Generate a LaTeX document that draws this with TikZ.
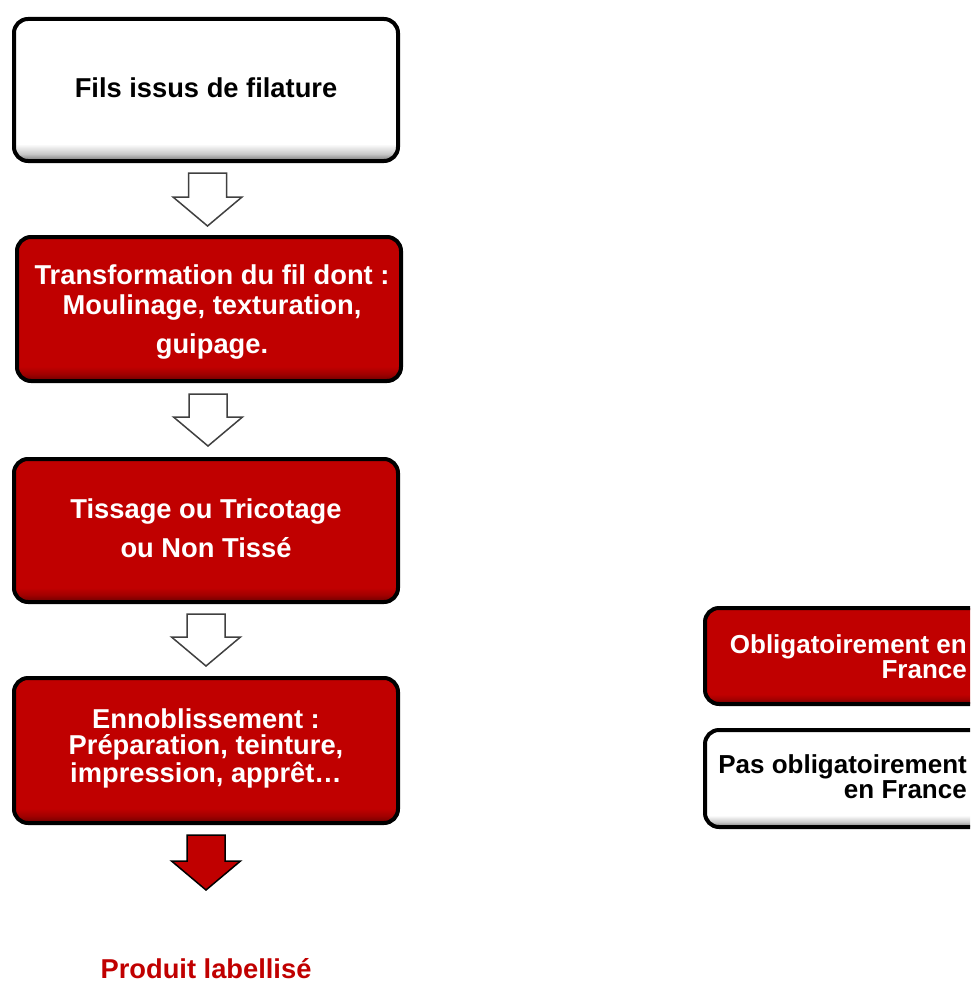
\documentclass[tikz,border=0pt]{standalone}
\usepackage{fontspec}
\setmainfont{Liberation Sans}
\usetikzlibrary{calc}
\definecolor{boxred}{HTML}{C00000}
\definecolor{boxdark}{HTML}{6A0000}
\definecolor{arrowline}{HTML}{404040}
\pgfdeclareverticalshading{redshade}{100bp}{color(0bp)=(boxdark); color(25bp)=(boxdark); color(27.5bp)=(boxred!65!boxdark); color(30bp)=(boxred); color(100bp)=(boxred)}
\pgfdeclareverticalshading{whiteshade}{100bp}{color(0bp)=(black!55); color(25bp)=(black!55); color(27.5bp)=(black!22); color(31bp)=(white); color(100bp)=(white)}
\newcommand\flowarrow[3]{%
  \draw[#1] let \p1=(#2), \p2=(#3) in
    (\x1-19pt,\y1) -- (\x1+19pt,\y1) -- (\x1+19pt,\y2+29pt) -- (\x1+34.5pt,\y2+29pt)
    -- (\x1,\y2) -- (\x1-34.5pt,\y2+29pt) -- (\x1-19pt,\y2+29pt) -- cycle;}
\begin{document}
\begin{tikzpicture}[x=1pt,y=-1pt,
  flowbox/.style={draw=black, line width=4pt, rounded corners=14pt, minimum width=384pt, inner sep=0pt, shade},
  redbox/.style={flowbox, shading=redshade},
  whitebox/.style={flowbox, shading=whiteshade},
  maintext/.style={font=\bfseries\fontsize{27.3}{28.5}\selectfont, align=center, inner sep=0pt},
  legtext/.style={font=\bfseries\fontsize{26}{25}\selectfont, align=right, inner sep=0pt},
  hollowarrow/.style={draw=arrowline, line width=1.5pt, fill=white, line join=miter},
  redarrow/.style={draw=black, line width=1.5pt, fill=boxred, line join=miter}]
\useasboundingbox (0,0) rectangle (970,982);
\clip (0,0) rectangle (970,982);
% boxes
\node[whitebox, minimum height=142pt] (b1) at (206,90) {};
\node[redbox, minimum height=144pt] (b2) at (209,309) {};
\node[redbox, minimum height=143pt] (b3) at (206,530.5) {};
\node[redbox, minimum height=145pt] (b4) at (206,750.5) {};
% legend boxes
\node[redbox, minimum width=320pt, minimum height=96pt] (l1) at (865,656) {};
\node[whitebox, minimum width=320pt, minimum height=97pt] (l2) at (865,778.5) {};
% texts (anchor base = baseline of the last line)
\node[maintext, anchor=base] (t1) at (206,97) {Fils issus de filature};
\node[maintext, anchor=base, text=white, font=\bfseries\fontsize{27.3}{30}\selectfont] (t2) at (212,353) {Transformation du fil dont :\\ Moulinage, texturation,\\[9pt] guipage.};
\node[maintext, anchor=base, text=white] (t3) at (206,557) {Tissage ou Tricotage\\[10pt] ou Non Tissé};
\node[maintext, anchor=base, text=white, font=\bfseries\fontsize{27.3}{26}\selectfont] (t4) at (206,782) {Ennoblissement :\\ Préparation, teinture,\\ impression, apprêt…};
\node[legtext, anchor=base east, text=white] (lt1) at (967,678) {Obligatoirement en\\ France};
\node[legtext, anchor=base east] (lt2) at (967,798) {Pas obligatoirement\\ en France};
\node[maintext, anchor=base, text=boxred] (prod) at (206,978) {Produit labellisé};
% arrow end points
\coordinate (a1s) at ($(b1.south)+(1.5,10)$);
\coordinate (a1e) at ($(b2.north)+(-1.5,-9)$);
\coordinate (a2s) at ($(b2.south)+(-1,11)$);
\coordinate (a2e) at ($(b3.north)+(2,-11)$);
\coordinate (a3s) at ($(b3.south)+(0,10)$);
\coordinate (a3e) at ($(b4.north)+(0,-10)$);
\coordinate (a4s) at ($(b4.south)+(0,10)$);
\coordinate (a4e) at ($(b4.south)+(0,65)$);
\flowarrow{hollowarrow}{a1s}{a1e}
\flowarrow{hollowarrow}{a2s}{a2e}
\flowarrow{hollowarrow}{a3s}{a3e}
\flowarrow{redarrow}{a4s}{a4e}
\end{tikzpicture}
\end{document}
